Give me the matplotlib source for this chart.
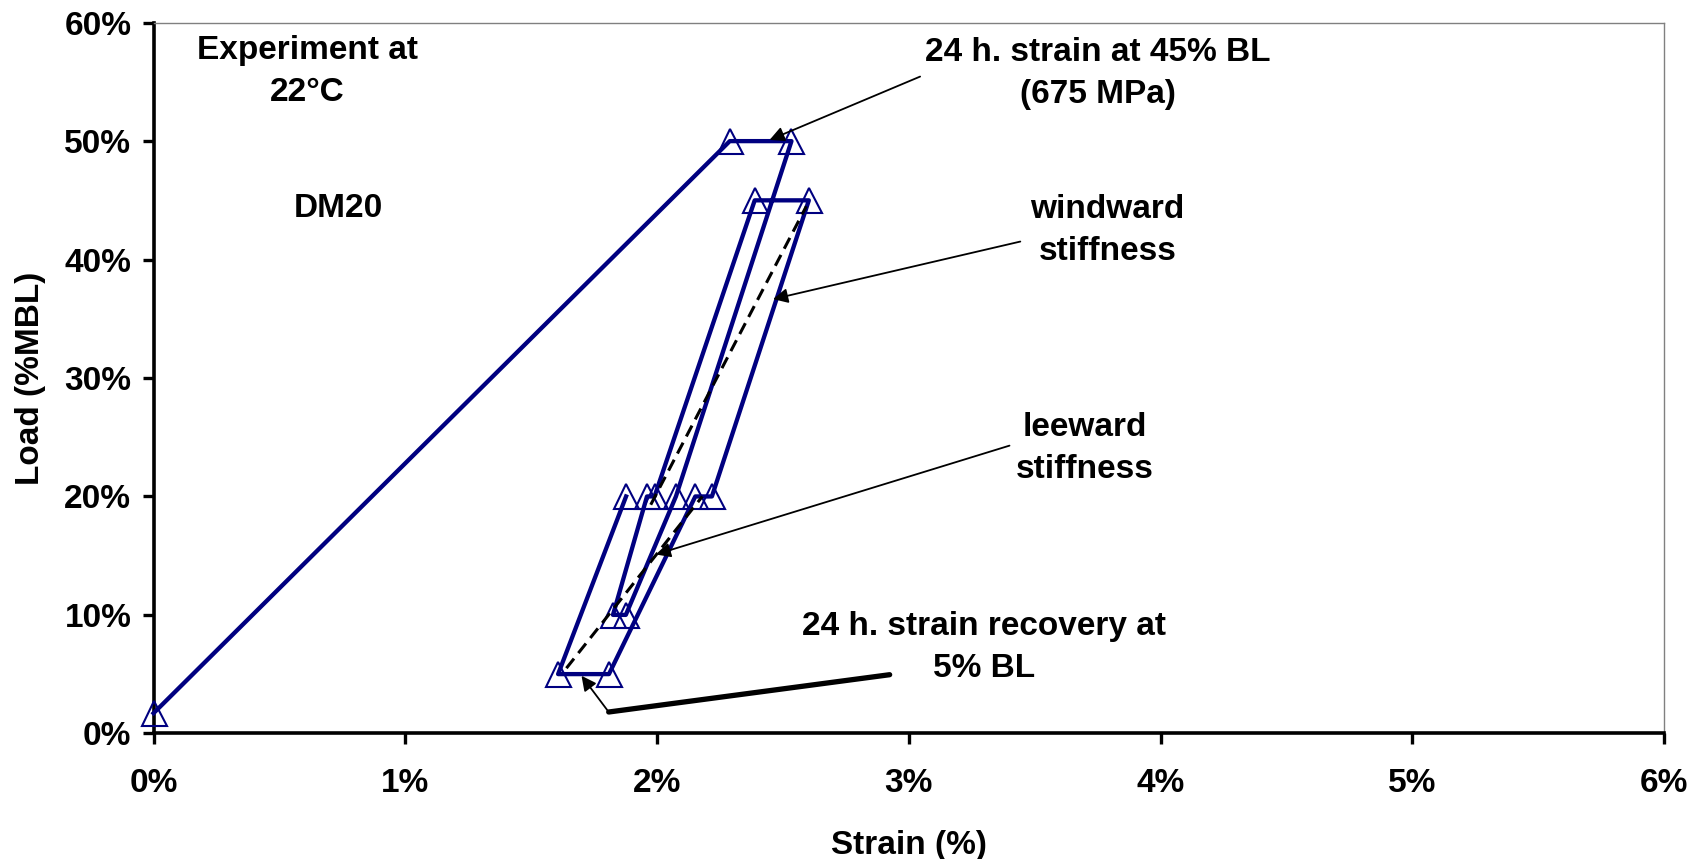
import matplotlib
matplotlib.use("Agg")
import matplotlib.pyplot as plt
from matplotlib.ticker import FuncFormatter

plt.rcParams["font.family"] = ["Liberation Sans", "DejaVu Sans"]
plt.rcParams["font.weight"] = "bold"
plt.rcParams["font.size"] = 24

# test path, strain (%) vs load (%MBL), in the order the points were taken
strain = [0.0, 2.289, 2.534, 2.075, 1.876, 1.825, 1.960, 1.990,
          2.388, 2.603, 2.218, 2.152, 1.809, 1.607, 1.877]
load = [1.7, 50, 50, 20, 10, 10, 20, 20, 45, 45, 20, 20, 5, 5, 20]

# secant lines used for the stiffness values
windward_strain = [1.975, 2.593]
windward_load = [19.3, 44.5]
leeward_strain = [1.640, 2.180]
leeward_load = [5.5, 20.0]

x_ticks = [0, 1, 2, 3, 4, 5, 6]
y_ticks = [0, 10, 20, 30, 40, 50, 60]

navy = "#000080"
spacing = 1.45

fig = plt.figure(figsize=(17.06, 8.59), dpi=100)
ax = fig.add_axes([0.090, 0.1463, 0.8854, 0.8273])

ax.plot(strain, load, color=navy, lw=3.1, marker="^", markersize=18,
        markerfacecolor="none", markeredgecolor=navy, markeredgewidth=1.5,
        clip_on=False, zorder=3)
ax.plot(windward_strain, windward_load, color="black", lw=2.2,
        linestyle=(0, (4, 2.3)), zorder=4)
ax.plot(leeward_strain, leeward_load, color="black", lw=2.2,
        linestyle=(0, (4, 2.3)), zorder=4)

ax.set_xlim(0, 6)
ax.set_ylim(0, 60)
ax.set_xticks(x_ticks)
ax.set_yticks(y_ticks)
pct = FuncFormatter(lambda v, pos: f"{v:.0f}%")
ax.xaxis.set_major_formatter(pct)
ax.yaxis.set_major_formatter(pct)

for side in ["left", "bottom"]:
    ax.spines[side].set_linewidth(2.6)
    ax.spines[side].set_color("black")
for side in ["top", "right"]:
    ax.spines[side].set_linewidth(1.0)
    ax.spines[side].set_color("#808080")

ax.tick_params(axis="both", direction="out", length=8, width=2.4,
               labelsize=24, top=False, right=False)
ax.tick_params(axis="x", pad=17)
ax.tick_params(axis="y", pad=8)

ax.set_xlabel("Strain (%)", fontsize=24, fontweight="bold", labelpad=22)
ax.set_ylabel("Load (%MBL)", fontsize=24, fontweight="bold", labelpad=13)

# labels
ax.text(0.61, 55.87, "Experiment at\n22°C", ha="center", va="center",
        linespacing=spacing)
ax.text(0.735, 44.3, "DM20", ha="center", va="center")

arrow = dict(arrowstyle="-|>", color="black", lw=1.3, mutation_scale=22,
             shrinkA=0, shrinkB=0)

ax.text(3.75, 55.7, "24 h. strain at 45% BL\n(675 MPa)", ha="center",
        va="center", linespacing=spacing)
ax.annotate("", xy=(2.447, 50.1), xytext=(3.045, 55.45), arrowprops=arrow,
            zorder=5)

ax.text(3.79, 42.43, "windward\nstiffness", ha="center", va="center",
        linespacing=spacing)
ax.annotate("", xy=(2.461, 36.66), xytext=(3.443, 41.52), arrowprops=arrow,
            zorder=5)

ax.text(3.698, 24.06, "leeward\nstiffness", ha="center", va="center",
        linespacing=spacing)
ax.annotate("", xy=(1.995, 15.1), xytext=(3.40, 24.29), arrowprops=arrow,
            zorder=5)

ax.text(3.30, 7.24, "24 h. strain recovery at\n5% BL", ha="center",
        va="center", linespacing=spacing)
ax.plot([2.924, 1.808], [4.95, 1.8], color="black", lw=3.8,
        solid_capstyle="round", zorder=5)
ax.annotate("", xy=(1.70, 4.86), xytext=(1.808, 1.8), arrowprops=arrow,
            zorder=5)

fig.savefig("out.png", dpi=100)
